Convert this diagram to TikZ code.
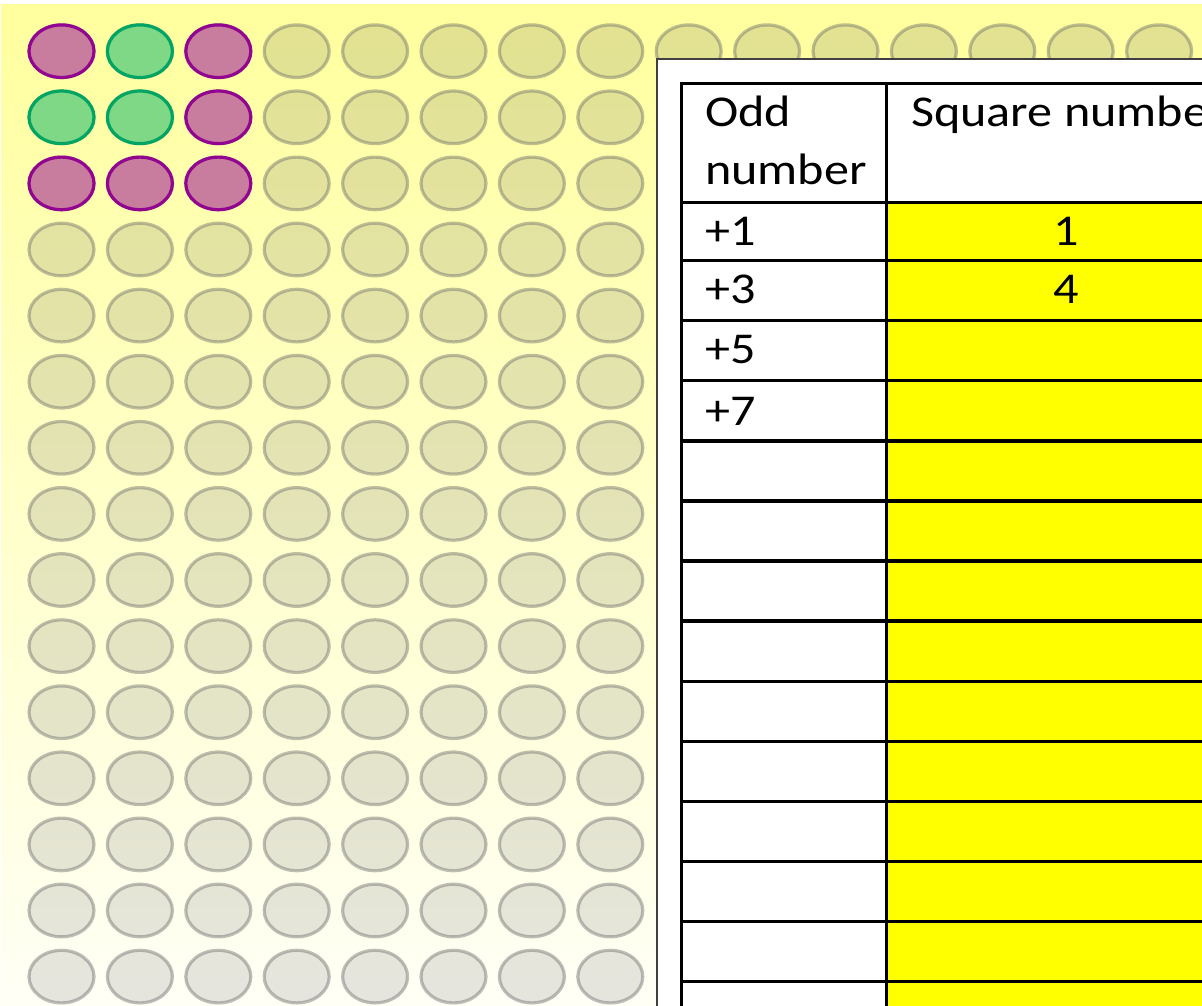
\documentclass[tikz,border=0pt]{standalone}
\usepackage{fontspec}
\setmainfont{Carlito}[FakeStretch=1.14]
\definecolor{bgtop}{RGB}{255,255,158}
\definecolor{bgmid}{RGB}{255,255,205}
\definecolor{bgbot}{RGB}{255,255,246}
\definecolor{dottop}{RGB}{226,226,145}
\definecolor{dotmid}{RGB}{227,227,185}
\definecolor{dotbot}{RGB}{229,229,223}
\definecolor{magfill}{RGB}{200,125,158}
\definecolor{magline}{RGB}{145,5,145}
\definecolor{grnfill}{RGB}{127,216,133}
\definecolor{grnline}{RGB}{0,165,100}
\definecolor{cellyellow}{RGB}{255,255,0}
\begin{document}
\begin{tikzpicture}[x=1pt,y=-1pt,
  dotrim/.style={draw=black!60, draw opacity=0.42, line width=3.2pt},
  magdot/.style={fill=magfill, draw=magline, line width=3.2pt},
  grndot/.style={fill=grnfill, draw=grnline, line width=3.2pt},
  tablerule/.style={line width=3.4pt, line cap=rect},
  celltext/.style={anchor=base west, inner sep=0pt, font=\fontsize{44}{58}\selectfont},
  numtext/.style={anchor=base, inner sep=0pt, font=\fontsize{44}{58}\selectfont},
]
\useasboundingbox (0,0) rectangle (1202,1005);
\clip (0,0) rectangle (1202,1005);
% background
\fill[white] (0,0) rectangle (1202,1005);
\shade[top color=bgtop, middle color=bgmid, bottom color=bgbot] (1.5,4) rectangle (1202,1005);
% grey counters
\shade[top color=dottop, middle color=dotmid, bottom color=dotbot]
  \foreach \r in {0,...,14}{\foreach \c in {0,...,7}{(61.5+78.4*\c,51.2+66.1*\r) ellipse [x radius=32.5, y radius=26.3]}}
  \foreach \c in {8,...,15}{(61.5+78.4*\c,51.2) ellipse [x radius=32.5, y radius=26.3]};
\draw[dotrim]
  \foreach \r in {0,...,14}{\foreach \c in {0,...,7}{(61.5+78.4*\c,51.2+66.1*\r) ellipse [x radius=32.5, y radius=26.3]}}
  \foreach \c in {8,...,15}{(61.5+78.4*\c,51.2) ellipse [x radius=32.5, y radius=26.3]};
% coloured counters
\foreach \c/\r/\s in {0/0/magdot,1/0/grndot,2/0/magdot,
                      0/1/grndot,1/1/grndot,2/1/magdot,
                      0/2/magdot,1/2/magdot,2/2/magdot}
  \draw[\s] (61.5+78.4*\c,51.2+66.1*\r) ellipse [x radius=32.5, y radius=26.3];
% white panel
\draw[fill=white, draw=black!75, line width=1.5pt] (657,59) rectangle (1260,1060);
% yellow column
\fill[cellyellow] (886.5,202.5) rectangle (1260,1060);
% table rules
\draw[tablerule] (681.5,83.5) -- (1260,83.5);
\draw[tablerule] (681.5,83.5) -- (681.5,1060);
\draw[tablerule] (886.5,83.5) -- (886.5,1060);
\draw[tablerule] (681.5,202.5) -- (1260,202.5);
\foreach \k in {0,...,12}
  \draw[tablerule] (681.5,260.5+60.1*\k) -- (1260,260.5+60.1*\k);
% texts
\node[celltext] (hodd) at (705,126) {Odd};
\node[celltext] (hnum) at (705,184) {number};
\node[celltext] (hsq) at (911,126) {Square numbe};
\node[celltext] (o1) at (705,245) {+1};
\node[celltext] (o3) at (705,303.3) {+3};
\node[celltext] (o5) at (705,363.3) {+5};
\node[celltext] (o7) at (705,425.5) {+7};
\node[numtext] (s1) at (1066,245) {1};
\node[numtext] (s4) at (1066,303.3) {4};
\end{tikzpicture}
\end{document}
